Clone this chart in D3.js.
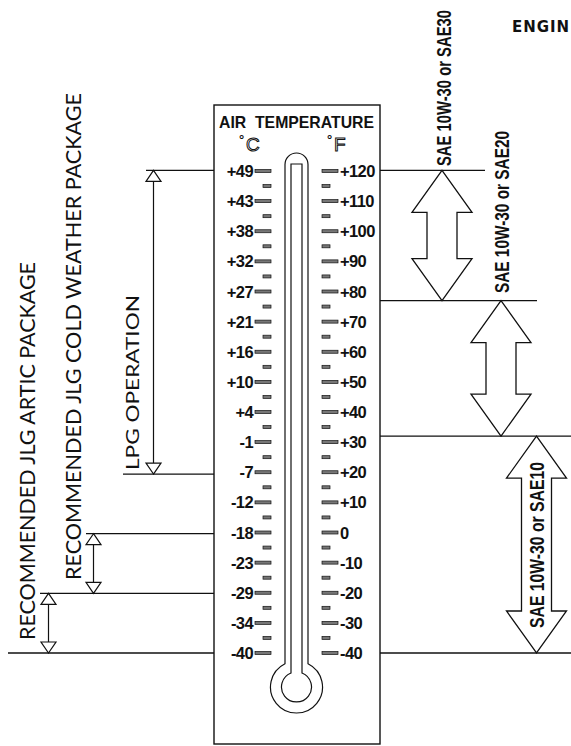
<!DOCTYPE html>
<html>
<head>
<meta charset="utf-8">
<script src="https://cdn.jsdelivr.net/npm/d3@7"></script>
<style>
  body { margin: 0; background: #fff; }
  svg { display: block; }
  text { white-space: pre; }
</style>
</head>
<body>
<svg width="571" height="746"></svg>
<script>
const W = 571
const H = 746

// fahrenheit scale ticks and the matching celsius labels
const fTicks = [120, 110, 100, 90, 80, 70, 60, 50, 40, 30, 20, 10, 0, -10, -20, -30, -40]
const cLabels = ["+49", "+43", "+38", "+32", "+27", "+21", "+16", "+10", "+4", "-1", "-7", "-12", "-18", "-23", "-29", "-34", "-40"]
const fMinor = [115, 105, 95, 85, 75, 65, 55, 45, 35, 25, 15, 5, -5, -15, -25, -35]

// oil bands (celsius)
const oilNames = ["SAE 10W-30 or SAE30", "SAE 10W-30 or SAE20", "SAE 10W-30 or SAE10"]
const oilFrom = [25, 0, -40]
const oilTo = [49, 25, 0]

// left side bands (celsius)
const pkgNames = ["LPG OPERATION", "RECOMMENDED JLG COLD WEATHER PACKAGE", "RECOMMENDED JLG ARTIC PACKAGE"]
const pkgFrom = [-7, -29, -40]
const pkgTo = [49, -18, -29]

const toF = c => c * 9 / 5 + 32

const svg = d3.select("svg")
const y = d3.scaleLinear().domain([-40, 120]).range([653, 171])

const BOX_L = 214, BOX_R = 380
const black = "#111"
const arial = "Liberation Sans, Arial, sans-serif"

// panel
svg.append("rect")
    .attr("x", BOX_L).attr("y", 105)
    .attr("width", BOX_R - BOX_L).attr("height", 639)
    .attr("fill", "#fff").attr("stroke", black).attr("stroke-width", 1.4)

svg.append("text")
    .attr("x", 219).attr("y", 128)
    .attr("textLength", 155).attr("lengthAdjust", "spacingAndGlyphs")
    .attr("font-family", arial)
    .attr("font-weight", "bold").attr("font-size", 16.5)
    .attr("fill", black)
    .text("AIR  TEMPERATURE")

// unit headings, hollow letters
;[["C", 246], ["F", 334]].forEach(([u, x]) => {
    svg.append("text")
        .attr("x", x - 7).attr("y", 144)
        .attr("font-family", arial)
        .attr("font-weight", "bold").attr("font-size", 13)
        .attr("fill", black)
        .text("°")
    svg.append("text")
        .attr("x", x).attr("y", 150.5)
        .attr("font-family", arial)
        .attr("font-size", 19)
        .attr("fill", "#fff").attr("stroke", black).attr("stroke-width", 1)
        .text(u)
})

// thermometer
svg.append("path")
    .attr("d", `M285,663.7 V164.5 A11.5,11.5 0 0 1 308,164.5 V663.7 A26,26 0 1 1 285,663.7 Z`)
    .attr("fill", "#fff").attr("stroke", black).attr("stroke-width", 1.2)
svg.append("path")
    .attr("d", `M291,673 V164 H302 V673 A15,15 0 1 1 291,673 Z`)
    .attr("fill", "#fff").attr("stroke", black).attr("stroke-width", 1.2)

// ticks
const tickStyle = sel => sel
    .attr("height", 3)
    .attr("fill", "#777").attr("stroke", black).attr("stroke-width", 0.7)

svg.selectAll("rect.majL").data(fTicks).join("rect")
    .attr("class", "majL").attr("x", 255).attr("width", 16)
    .attr("y", d => y(d) - 1.5).call(tickStyle)
svg.selectAll("rect.majR").data(fTicks).join("rect")
    .attr("class", "majR").attr("x", 322).attr("width", 16)
    .attr("y", d => y(d) - 1.5).call(tickStyle)
svg.selectAll("rect.minL").data(fMinor).join("rect")
    .attr("class", "minL").attr("x", 263).attr("width", 8)
    .attr("y", d => y(d) - 1.5).call(tickStyle)
svg.selectAll("rect.minR").data(fMinor).join("rect")
    .attr("class", "minR").attr("x", 322).attr("width", 8)
    .attr("y", d => y(d) - 1.5).call(tickStyle)

svg.selectAll("text.cLab").data(fTicks).join("text")
    .attr("class", "cLab")
    .attr("x", 253).attr("y", d => y(d) + 6)
    .attr("text-anchor", "end")
    .attr("font-family", arial)
    .attr("font-weight", "bold").attr("font-size", 16.5)
    .attr("letter-spacing", -0.6)
    .attr("fill", black)
    .text((d, i) => cLabels[i])

svg.selectAll("text.fLab").data(fTicks).join("text")
    .attr("class", "fLab")
    .attr("x", 340).attr("y", d => y(d) + 6)
    .attr("font-family", arial)
    .attr("font-weight", "bold").attr("font-size", 16.5)
    .attr("letter-spacing", -0.6)
    .attr("fill", black)
    .text(d => d > 0 ? "+" + d : String(d))

// right side guide lines
const rightEnds = [485, 537, W]
oilTo.forEach((c, i) => {
    svg.append("line")
        .attr("x1", BOX_R).attr("x2", rightEnds[i])
        .attr("y1", y(toF(c))).attr("y2", y(toF(c)))
        .attr("stroke", black).attr("stroke-width", 1.3)
})
svg.append("line")
    .attr("x1", BOX_R).attr("x2", W)
    .attr("y1", y(-40)).attr("y2", y(-40))
    .attr("stroke", black).attr("stroke-width", 1.3)

// big double arrows
const oilX = [442, 501, 536.5]
oilNames.forEach((name, i) => {
    const x = oilX[i]
    const y0 = y(toF(oilTo[i])), y1 = y(toF(oilFrom[i]))
    const hw = 30, sw = 15, hl = 42
    const pts = [
        [x, y0], [x + hw, y0 + hl], [x + sw, y0 + hl], [x + sw, y1 - hl], [x + hw, y1 - hl],
        [x, y1], [x - hw, y1 - hl], [x - sw, y1 - hl], [x - sw, y0 + hl], [x - hw, y0 + hl]
    ]
    svg.append("polygon")
        .attr("points", pts.map(p => p.join(",")).join(" "))
        .attr("fill", "#fff").attr("stroke", black).attr("stroke-width", 1.3)
})

// oil labels
const oilTextX = [443, 501.5, 536.5]
const oilTextMid = [88, 212, 545]
const oilTextLen = [156, 162, 166]
oilNames.forEach((name, i) => {
    svg.append("text")
        .attr("transform", `translate(${oilTextX[i]},${oilTextMid[i]}) rotate(-90)`)
        .attr("text-anchor", "middle").attr("dominant-baseline", "central")
        .attr("textLength", oilTextLen[i]).attr("lengthAdjust", "spacingAndGlyphs")
        .attr("font-family", "Liberation Sans Narrow, Liberation Sans, Arial, sans-serif")
        .attr("font-weight", "bold").attr("font-size", 21)
        .attr("fill", black)
        .text(name)
})

// left side guide lines and thin arrows
const pkgX = [153.5, 93.5, 48.5]
const leftStarts = { 49: 146, "-7": 123, "-18": 86, "-29": 40, "-40": 8 }
;[49, -7, -18, -29, -40].forEach(c => {
    svg.append("line")
        .attr("x1", leftStarts[c]).attr("x2", BOX_L)
        .attr("y1", y(toF(c))).attr("y2", y(toF(c)))
        .attr("stroke", black).attr("stroke-width", 1.3)
})

pkgNames.forEach((name, i) => {
    const x = pkgX[i]
    const y0 = y(toF(pkgTo[i])), y1 = y(toF(pkgFrom[i]))
    svg.append("line")
        .attr("x1", x).attr("x2", x).attr("y1", y0 + 10).attr("y2", y1 - 10)
        .attr("stroke", black).attr("stroke-width", 1.2)
    svg.append("polygon")
        .attr("points", `${x},${y0} ${x + 7.5},${y0 + 11} ${x - 7.5},${y0 + 11}`)
        .attr("fill", "#fff").attr("stroke", black).attr("stroke-width", 1.2)
    svg.append("polygon")
        .attr("points", `${x},${y1} ${x + 7.5},${y1 - 11} ${x - 7.5},${y1 - 11}`)
        .attr("fill", "#fff").attr("stroke", black).attr("stroke-width", 1.2)
})

const pkgTextX = [131.5, 72, 26]
const pkgTextBottom = [470, 580, 640]
const pkgTextLen = [175, 487, 378]
const pkgFont = [18, 21, 21]
pkgNames.forEach((name, i) => {
    svg.append("text")
        .attr("transform", `translate(${pkgTextX[i]},${pkgTextBottom[i]}) rotate(-90)`)
        .attr("dominant-baseline", "central")
        .attr("textLength", pkgTextLen[i]).attr("lengthAdjust", "spacingAndGlyphs")
        .attr("font-family", "Lato, Open Sans, sans-serif")
        .attr("font-size", pkgFont[i])
        .attr("fill", black)
        .text(name)
})

// cut-off heading, top right
svg.append("text")
    .attr("x", 512).attr("y", 32)
    .attr("textLength", 57).attr("lengthAdjust", "spacing")
    .attr("font-family", "DejaVu Sans, sans-serif")
    .attr("font-weight", 600).attr("font-size", 15)
    .attr("fill", black)
    .text("ENGIN")
</script>
</body>
</html>
